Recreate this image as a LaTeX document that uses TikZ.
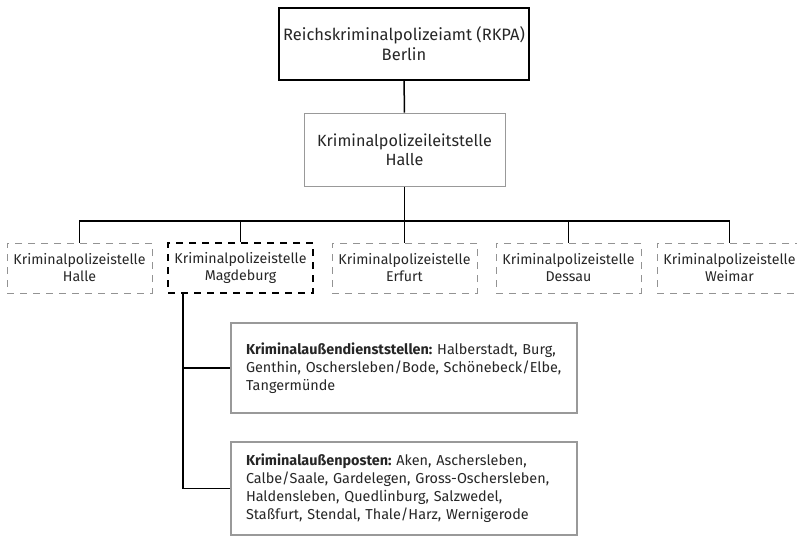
\documentclass[tikz,border=0pt]{standalone}
\usepackage{fontspec}
\setmainfont{Fira Sans}
\usepackage{tikz}

\tikzset{
  amtbox/.style={draw=black, line width=1.6pt, minimum width=250pt, minimum height=72pt,
    align=center, font=\fontsize{16.5}{20}\selectfont},
  leitbox/.style={draw=gray!80, line width=1pt, minimum width=201pt, minimum height=73pt,
    align=center, font=\fontsize{16.2}{19}\selectfont},
  stellebox/.style={draw=gray!85, line width=0.8pt, dash pattern=on 7pt off 6pt,
    minimum width=145pt, minimum height=50pt, inner sep=0pt,
    align=center, font=\fontsize{14.2}{17}\selectfont},
  listbox/.style={draw=gray!80, line width=1.2pt, minimum width=346pt, text width=316pt,
    inner xsep=15pt, align=left, font=\fontsize{14.4}{18}\selectfont},
  link/.style={line width=1.5pt}
}

\begin{document}
\frenchspacing
\begin{tikzpicture}[x=1pt,y=-1pt,text=black!85]
        \useasboundingbox (0,0) rectangle (797,536);
        \node[amtbox] (rkpa) at (404,44) {Reichskriminalpolizeiamt (RKPA)\\Berlin};
        \node[leitbox] (leit) at (404.5,149.5) {Kriminalpolizeileitstelle\\Halle};
        \coordinate (bar) at (404.5,221);
        \node[stellebox] (halle) at (79.5,268) {Kriminalpolizeistelle\\Halle};
        \node[stellebox, draw=black, line width=1.6pt] (magde) at (240.5,268) {Kriminalpolizeistelle\\Magdeburg};
        \node[stellebox] (erfurt) at (404.5,268) {Kriminalpolizeistelle\\Erfurt};
        \node[stellebox] (dessau) at (568.5,268) {Kriminalpolizeistelle\\Dessau};
        \node[stellebox] (weimar) at (729.5,268) {Kriminalpolizeistelle\\Weimar};
        \node[listbox, minimum height=90pt] (aussen) at (404,368)
          {\textbf{Kriminalaußendienststellen:} Halberstadt, Burg,\\
           Genthin, Oschersleben/Bode, Schönebeck/Elbe,\\
           Tangermünde};
        \node[listbox, minimum height=93pt] (posten) at (404,488.5)
          {\textbf{Kriminalaußenposten:} Aken, Aschersleben,\\
           Calbe/Saale, Gardelegen, Gross-Oschersleben,\\
           Haldensleben, Quedlinburg, Salzwedel,\\
           Staßfurt, Stendal, Thale/Harz, Wernigerode};
        \draw[link] (rkpa) -- (leit);
        \draw[link] (leit) -- (bar);
        \draw[link] (halle.north) |- (bar) -| (weimar.north);
        \draw[link] (bar -| magde.north) -- (magde.north);
        \draw[link] (bar) -- (erfurt.north);
        \draw[link] (bar -| dessau.north) -- (dessau.north);
        \draw[link] ([xshift=16pt]magde.south west) |- (aussen.west);
        \draw[link] ([xshift=16pt]magde.south west) |- (posten.west);
    \end{tikzpicture}
\end{document}
